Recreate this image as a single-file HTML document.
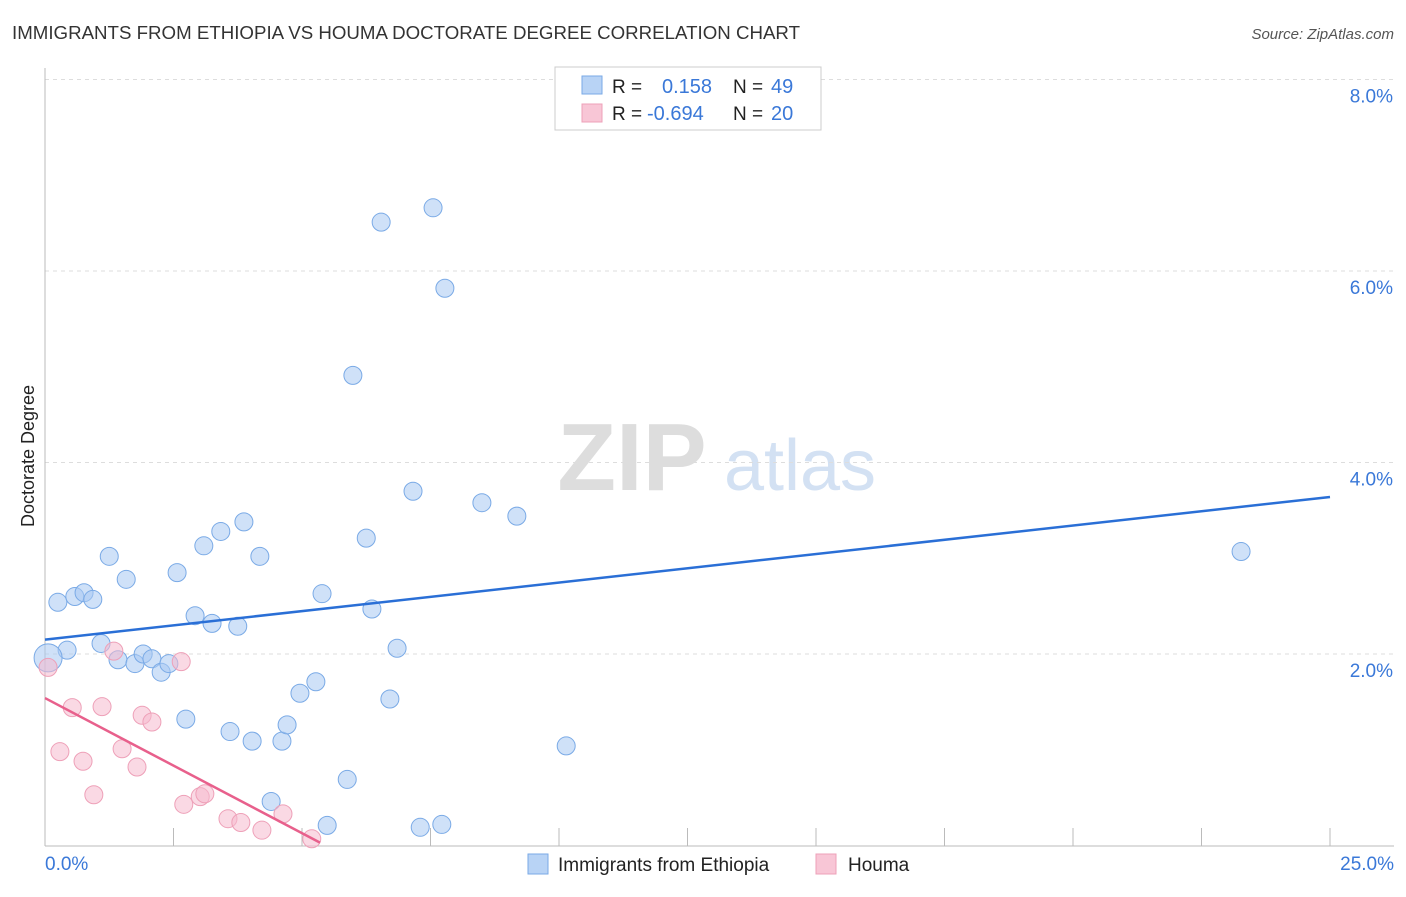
<!DOCTYPE html>
<html><head><meta charset="utf-8"><style>
body{margin:0;background:#fff;font-family:"Liberation Sans",sans-serif}
svg text{font-family:"Liberation Sans",sans-serif}
</style></head><body>
<svg id="c" width="1406" height="892">
<text x="12" y="39" font-size="18" fill="#333" textLength="788" lengthAdjust="spacingAndGlyphs">IMMIGRANTS FROM ETHIOPIA VS HOUMA DOCTORATE DEGREE CORRELATION CHART</text>
<text x="1394" y="39" font-size="15" fill="#555" font-style="italic" text-anchor="end">Source: ZipAtlas.com</text>
<g><text x="632" y="490" font-size="96" fill="#ddd" text-anchor="middle" font-family="Liberation Serif" font-weight="bold">ZIP</text><text x="800" y="490" font-size="72" fill="#d3e1f3" text-anchor="middle">atlas</text></g>
<text transform="translate(34,456) rotate(-90)" font-size="18" fill="#222" text-anchor="middle">Doctorate Degree</text>
<g id="grid"></g><g id="ticks"></g><g id="lines"></g><g id="pts"></g>
<g>
<rect x="555" y="67" width="266" height="63" fill="#fff" stroke="#ccc"/>
<rect x="582" y="76" width="20" height="18" fill="#b8d3f5" stroke="#7aaae6"/>
<text x="612" y="93" font-size="19" fill="#222">R =</text><text x="662" y="93" font-size="20" fill="#3a78d8">0.158</text>
<text x="733" y="93" font-size="19" fill="#222">N =</text><text x="771" y="93" font-size="20" fill="#3a78d8">49</text>
<rect x="582" y="104" width="20" height="18" fill="#f8c6d6" stroke="#eea0b8"/>
<text x="612" y="120" font-size="19" fill="#222">R =</text><text x="647" y="120" font-size="20" fill="#3a78d8">-0.694</text>
<text x="733" y="120" font-size="19" fill="#222">N =</text><text x="771" y="120" font-size="20" fill="#3a78d8">20</text>
</g>
<g>
<rect x="528" y="854" width="20" height="20" fill="#b8d3f5" stroke="#7aaae6"/>
<text x="558" y="871" font-size="19" fill="#222">Immigrants from Ethiopia</text>
<rect x="816" y="854" width="20" height="20" fill="#f8c6d6" stroke="#eea0b8"/>
<text x="848" y="871" font-size="19" fill="#222">Houma</text>
</g>
</svg>
<script>
const blueX=[0.25,0.58,0.76,0.93,0.43,1.09,1.25,1.58,1.42,1.75,1.91,2.08,2.26,2.41,2.57,2.92,3.09,3.25,3.42,3.75,3.87,4.18,3.60,4.03,2.74,4.40,4.61,4.71,4.96,5.27,5.39,5.49,5.88,5.99,6.25,6.36,6.54,6.71,6.85,7.16,7.30,7.55,7.72,7.78,8.50,9.18,10.14,23.27,0.06];
const blueY=[2.54,2.60,2.64,2.57,2.04,2.11,3.02,2.78,1.94,1.90,2.00,1.95,1.81,1.90,2.85,2.40,3.13,2.32,3.28,2.29,3.38,3.02,1.19,1.09,1.32,0.46,1.09,1.26,1.59,1.71,2.63,0.21,0.69,4.91,3.21,2.47,6.51,1.53,2.06,3.70,0.19,6.66,0.22,5.82,3.58,3.44,1.04,3.07,1.96];
const pinkX=[0.06,0.29,0.53,0.74,0.95,1.11,1.34,1.50,1.79,1.89,2.08,2.65,2.70,3.02,3.11,3.56,3.81,4.22,4.63,5.19];
const pinkY=[1.86,0.98,1.44,0.88,0.53,1.45,2.03,1.01,0.82,1.36,1.29,1.92,0.43,0.51,0.54,0.28,0.24,0.16,0.33,0.07];
const blueTrend=[[0,2.15],[25,3.64]];
const pinkTrend=[[0,1.54],[5.35,0.03]];
const yTicks=[2,4,6,8];
const xTicks=[0,2.5,5,7.5,10,12.5,15,17.5,20,22.5,25];
const sx=v=>45+v/25*1285, sy=v=>845.5-v*95.75;
const NS="http://www.w3.org/2000/svg";
function mk(p,t,a){const e=document.createElementNS(NS,t);for(const k in a)e.setAttribute(k,a[k]);document.getElementById(p).appendChild(e);return e;}
yTicks.forEach(v=>{
 const l=mk('grid','line',{x1:45,x2:1394,y1:sy(v),y2:sy(v),stroke:'#ddd','stroke-dasharray':'4,4'});
 
 
 const t=mk('grid','text',{x:1393,y:sy(v)+23,'font-size':19,fill:'#3a78d8','text-anchor':'end'});t.textContent=v.toFixed(1)+'%';
 
 
});
mk('ticks','line',{x1:45,x2:45,y1:68,y2:846,stroke:'#bbb'});
mk('ticks','line',{x1:45,x2:1394,y1:846,y2:846,stroke:'#bbb'});
xTicks.forEach(v=>{
 const l=mk('ticks','line',{x1:sx(v),x2:sx(v),y1:828,y2:846,stroke:'#bbb'});
 
 
});
[[0,'start',45],[25,'end',1394]].forEach(([v,a,x])=>{const t=mk('ticks','text',{x:x,y:870,'font-size':19,fill:'#3a78d8','text-anchor':a});t.textContent=v.toFixed(1)+'%';
 
 });
function pts(X,Y,f,s,n){X.forEach((x,i)=>{const c=mk('pts','circle',{cx:sx(x),cy:sy(Y[i]),r:(n=='blue'&&i==X.length-1)?14:9,fill:f,stroke:s,'stroke-width':1});
 
 });}
pts(blueX,blueY,'rgba(168,200,242,0.55)','#7aaae6','blue');
pts(pinkX,pinkY,'rgba(246,186,206,0.55)','#eea0b8','pink');
const b=mk('lines','line',{x1:sx(blueTrend[0][0]),y1:sy(blueTrend[0][1]),x2:sx(blueTrend[1][0]),y2:sy(blueTrend[1][1]),stroke:'#2a6fd6','stroke-width':2.5});


const p=mk('lines','line',{x1:sx(pinkTrend[0][0]),y1:sy(pinkTrend[0][1]),x2:sx(pinkTrend[1][0]),y2:sy(pinkTrend[1][1]),stroke:'#e8608c','stroke-width':2.5});


document.getElementById('pts').parentNode.appendChild(document.getElementById('lines'));
</script>
</body></html>
